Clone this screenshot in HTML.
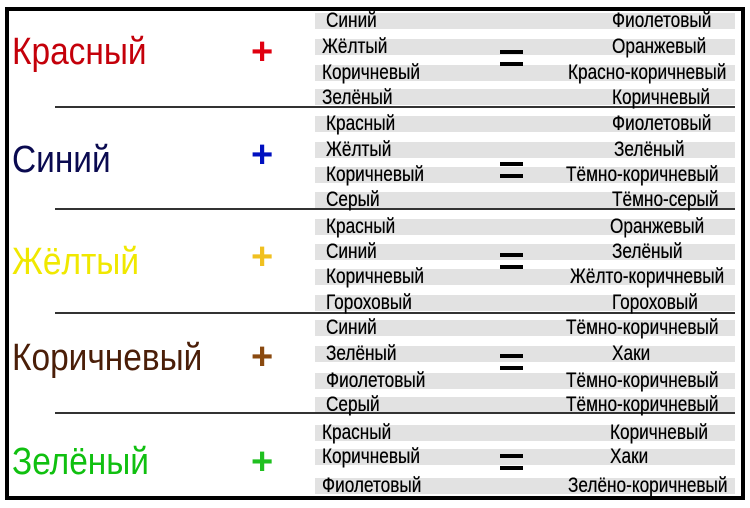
<!DOCTYPE html>
<html><head><meta charset="utf-8"><style>
body{margin:0;width:750px;height:508px;background:#fff;position:relative;overflow:hidden;font-family:"Liberation Sans","DejaVu Sans",sans-serif}
.frame{position:absolute;left:5px;top:7px;width:732px;height:485px;border:4px solid #000}
.band{position:absolute;left:315px;width:420px;height:16px;background:#e2e2e2}
.t{position:absolute;font-size:21px;line-height:20px;color:#000;transform:scaleX(.82);transform-origin:left center;white-space:nowrap;text-shadow:0 0 .4px #000}
.big{position:absolute;font-size:38px;line-height:40px;transform:scaleX(.88);transform-origin:left center;white-space:nowrap;left:12px}
.line{position:absolute;left:55px;width:680px;height:2px;background:#333}
.plus{position:absolute;left:251px;font-size:38px;font-weight:bold;line-height:34px}
.eq{position:absolute;left:500px;width:23px;height:16px;border-top:4px solid #000;border-bottom:4px solid #000;box-sizing:border-box}
</style></head><body>
<div class="frame"></div>

<div class="band" style="top:13px"></div><div class="band" style="top:39px"></div><div class="band" style="top:65px"></div><div class="band" style="top:89px"></div>
<div class="band" style="top:116px"></div><div class="band" style="top:142px"></div><div class="band" style="top:167px"></div><div class="band" style="top:192px"></div>
<div class="band" style="top:219px"></div><div class="band" style="top:244px"></div><div class="band" style="top:269px"></div><div class="band" style="top:295px"></div>
<div class="band" style="top:320px"></div><div class="band" style="top:346px"></div><div class="band" style="top:373px"></div><div class="band" style="top:397px"></div>
<div class="band" style="top:425px"></div><div class="band" style="top:449px"></div><div class="band" style="top:478px"></div>

<div class="line" style="top:106px"></div><div class="line" style="top:208px"></div><div class="line" style="top:312px"></div><div class="line" style="top:412px"></div>

<div class="big" style="top:32px;color:#c4000a">Красный</div>
<div class="big" style="top:140px;color:#0a0a50">Синий</div>
<div class="big" style="top:242px;color:#f0e800">Жёлтый</div>
<div class="big" style="top:338px;color:#4a1e08">Коричневый</div>
<div class="big" style="top:442px;color:#10c010">Зелёный</div>

<div class="plus" style="top:35px;color:#e00010">+</div>
<div class="plus" style="top:138px;color:#0010c0">+</div>
<div class="plus" style="top:240px;color:#f0c020">+</div>
<div class="plus" style="top:340px;color:#8a4a10">+</div>
<div class="plus" style="top:445px;color:#20c020">+</div>

<div class="eq" style="top:50px"></div><div class="eq" style="top:162px"></div><div class="eq" style="top:253px"></div><div class="eq" style="top:354px"></div><div class="eq" style="top:454px"></div>

<div class="t" style="left:326px;top:11px">Синий</div>
<div class="t" style="left:322px;top:37px">Жёлтый</div>
<div class="t" style="left:322px;top:63px">Коричневый</div>
<div class="t" style="left:322px;top:88px">Зелёный</div>
<div class="t" style="left:326px;top:114px">Красный</div>
<div class="t" style="left:326px;top:140px">Жёлтый</div>
<div class="t" style="left:326px;top:165px">Коричневый</div>
<div class="t" style="left:326px;top:190px">Серый</div>
<div class="t" style="left:326px;top:217px">Красный</div>
<div class="t" style="left:326px;top:242px">Синий</div>
<div class="t" style="left:326px;top:267px">Коричневый</div>
<div class="t" style="left:326px;top:293px">Гороховый</div>
<div class="t" style="left:326px;top:318px">Синий</div>
<div class="t" style="left:326px;top:344px">Зелёный</div>
<div class="t" style="left:326px;top:371px">Фиолетовый</div>
<div class="t" style="left:326px;top:395px">Серый</div>
<div class="t" style="left:322px;top:423px">Красный</div>
<div class="t" style="left:322px;top:447px">Коричневый</div>
<div class="t" style="left:322px;top:476px">Фиолетовый</div>

<div class="t" style="left:612px;top:11px">Фиолетовый</div>
<div class="t" style="left:612px;top:37px">Оранжевый</div>
<div class="t" style="left:568px;top:63px">Красно-коричневый</div>
<div class="t" style="left:612px;top:88px">Коричневый</div>
<div class="t" style="left:612px;top:114px">Фиолетовый</div>
<div class="t" style="left:614px;top:140px">Зелёный</div>
<div class="t" style="left:566px;top:165px">Тёмно-коричневый</div>
<div class="t" style="left:612px;top:190px">Тёмно-серый</div>
<div class="t" style="left:610px;top:217px">Оранжевый</div>
<div class="t" style="left:612px;top:242px">Зелёный</div>
<div class="t" style="left:570px;top:267px">Жёлто-коричневый</div>
<div class="t" style="left:612px;top:293px">Гороховый</div>
<div class="t" style="left:566px;top:318px">Тёмно-коричневый</div>
<div class="t" style="left:612px;top:344px">Хаки</div>
<div class="t" style="left:566px;top:371px">Тёмно-коричневый</div>
<div class="t" style="left:566px;top:395px">Тёмно-коричневый</div>
<div class="t" style="left:610px;top:423px">Коричневый</div>
<div class="t" style="left:610px;top:447px">Хаки</div>
<div class="t" style="left:568px;top:476px">Зелёно-коричневый</div>
</body></html>
